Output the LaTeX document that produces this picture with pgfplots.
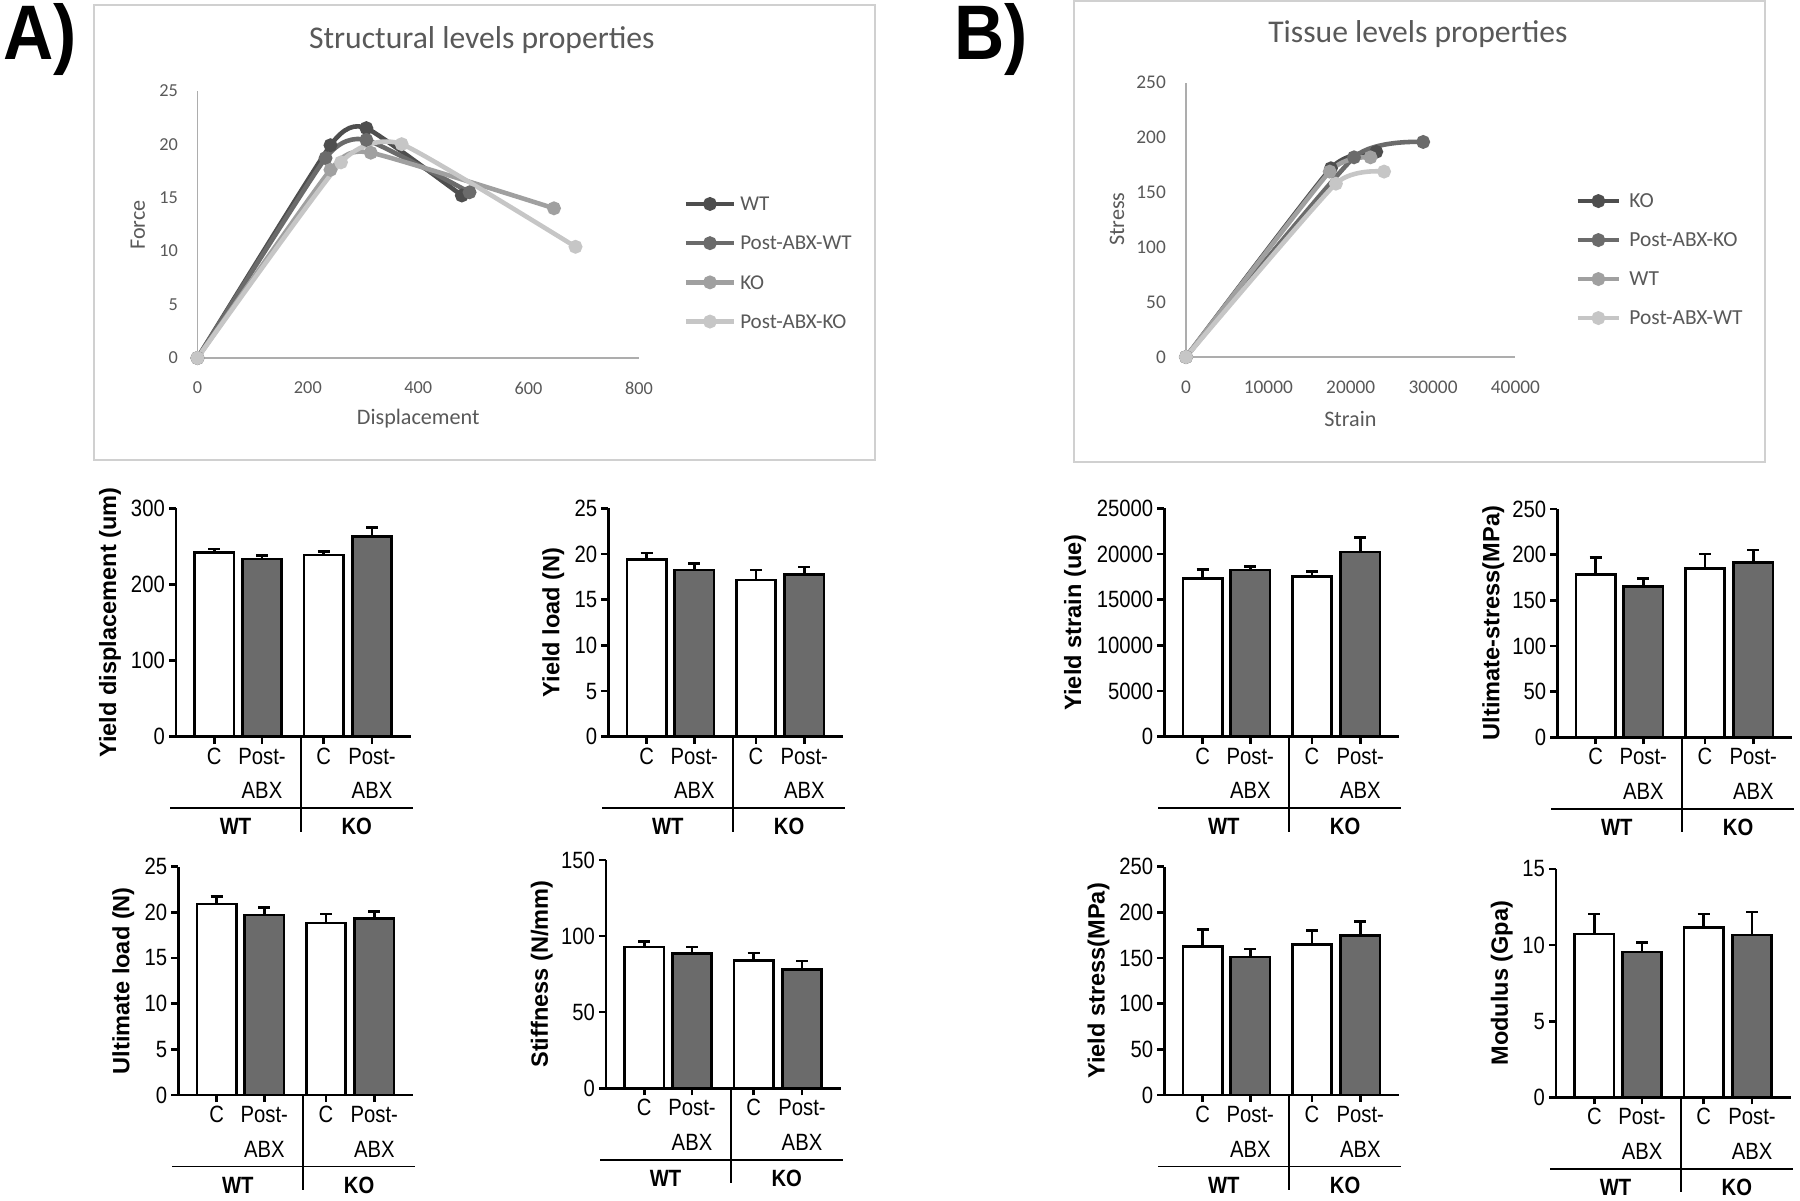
\documentclass[border=0pt]{standalone}
\usepackage{fontspec}
\usepackage{pgfplots}
\pgfplotsset{compat=1.18}
\setmainfont{Liberation Sans}
\newfontfamily\calf{Carlito}
\newfontfamily\barf[FakeStretch=0.86]{Liberation Sans}
\newfontfamily\barr{Liberation Sans}
\newfontfamily\bigf[FakeStretch=0.9]{Liberation Sans}
\definecolor{txt}{HTML}{595959}
\definecolor{c1}{HTML}{4E4E4E}
\definecolor{c2}{HTML}{6B6B6B}
\definecolor{c3}{HTML}{A0A0A0}
\definecolor{c4}{HTML}{C6C6C6}
\definecolor{barg}{HTML}{6B6B6B}
\definecolor{framec}{HTML}{D0D0D0}
\definecolor{axg}{HTML}{ADADAD}

\pgfplotsset{
  linechart/.style={
    scale only axis, clip=false,
    axis x line*=bottom, axis y line*=left,
    axis line style={-, draw=axg, line width=0.5pt},
    major tick length=0pt,
    /pgf/number format/assume math mode=true,
    /pgf/number format/1000 sep={},
    scaled x ticks=false, scaled y ticks=false,
    xticklabel style={inner sep=0pt, yshift=-2.3mm, text=txt},
    yticklabel style={inner sep=0pt, xshift=-1.9mm, text=txt},
    every axis title/.style={anchor=center, text=txt, font=\calf\fontsize{9}{10}\selectfont},
    xlabel style={anchor=center, text=txt, font=\calf\fontsize{6.3}{7}\selectfont},
    ylabel style={anchor=center, text=txt, font=\calf\fontsize{6.3}{7}\selectfont},
    legend cell align=left,
    every axis plot/.append style={line width=1.3pt, mark=*, mark size=1.3pt, smooth, tension=0.3, mark options={line width=0.4pt}},
  },
  barchart/.style={
    scale only axis, width=23.45mm, height=22.84mm, clip=false,
    xmin=0, xmax=234.5, ymin=0,
    axis x line*=bottom, axis y line*=left,
    axis line style={-, line width=0.75pt, black},
    tick align=outside, major tick length=0.7mm,
    every tick/.style={black, line width=0.75pt},
    xtick={38.3,86,147.7,196},
    xticklabels={C,Post-\\ABX,C,Post-\\ABX},
    xticklabel style={font=\barf\fontsize{6.7}{9.9}\selectfont, align=center, inner sep=1pt},
    yticklabel style={font=\barf\fontsize{6.7}{8}\selectfont, inner sep=1pt},
    /pgf/number format/assume math mode=true,
    /pgf/number format/1000 sep={},
    scaled y ticks=false,
    ylabel style={font=\barr\bfseries\fontsize{6.7}{8}\selectfont, anchor=center},
  },
  bbase/.style={ybar, bar shift=0pt, bar width=39.3, draw=black, line width=0.75pt,
    /pgfplots/error bars/y dir=plus, /pgfplots/error bars/y explicit,
    /pgfplots/error bars/error bar style={line width=0.75pt, black},
    /pgfplots/error bars/error mark options={rotate=90, mark size=0.6mm, line width=0.75pt, black}},
}

\newcommand{\groupdeco}{%
  \draw[line width=0.5pt] ([yshift=-7.16mm]axis cs:-6,0) -- ([yshift=-7.16mm]axis cs:236.5,0);
  \draw[line width=0.5pt] (axis cs:125,0) -- ([yshift=-9.5mm]axis cs:125,0);
  \node[font=\barf\bfseries\fontsize{6.7}{8}\selectfont] at ([yshift=-9.0mm]axis cs:59.5,0) {WT};
  \node[font=\barf\bfseries\fontsize{6.7}{8}\selectfont] at ([yshift=-9.0mm]axis cs:180.8,0) {KO};
}

\begin{document}
\begin{tikzpicture}
\begin{scope}[x=0.1mm,y=-0.1mm]
  \fill[white] (0,0) rectangle (1800,1201);
  \coordinate (cA) at (197.5,358);
  \coordinate (cB) at (1186,357);
  \coordinate (b1) at (176,736.7);
  \coordinate (b2) at (608.3,736.7);
  \coordinate (b3) at (178.3,1095);
  \coordinate (b4) at (606,1088.3);
  \coordinate (b5) at (1164.3,736.7);
  \coordinate (b6) at (1557.3,737.3);
  \coordinate (b7) at (1164.3,1095);
  \coordinate (b8) at (1556,1097.3);
  \draw[framec, line width=0.5pt] (94,5) rectangle (875,460);
  \draw[framec, line width=0.5pt] (1074,1) rectangle (1765,462);
  \node[font=\bigf\bfseries\fontsize{22}{24}\selectfont, inner sep=0pt] at (40,40) {A)};
  \node[font=\bigf\bfseries\fontsize{22}{24}\selectfont, inner sep=0pt] at (991,40) {B)};
\end{scope}

% ---------- A: structural levels ----------
\begin{axis}[linechart, at={(cA)}, anchor=south west, width=44.15mm, height=26.73mm,
  xmin=0, xmax=800, ymin=0, ymax=25, xtick={0,200,400,600,800}, ytick={0,5,10,15,20,25},
  tick label style={font=\calf\fontsize{5.2}{6}\selectfont},
  title={Structural levels properties},
  title style={at={(axis description cs:0.644,1.19)}},
  xlabel={Displacement}, xlabel style={at={(axis description cs:0.5,-0.228)}},
  ylabel={Force}, ylabel style={at={(axis description cs:-0.135,0.4976)}},
  legend style={at={(axis description cs:1.0997,0.6038)}, anchor=north west, draw=none, fill=none, inner sep=0pt, row sep=2.59mm, column sep=0.4mm, font=\calf\fontsize{6.0}{6.5}\selectfont, nodes={inner sep=0pt, text height=1.33mm, text depth=0pt, text=txt}},
  legend image code/.code={\draw[mark repeat=2,mark phase=2,#1] plot coordinates {(0mm,0mm) (2.4mm,0mm) (4.8mm,0mm)};},
]
\addplot[c1, mark options={fill=c1}] coordinates {(0,0) (241,19.9) (306,21.5) (479,15.2)};
\addlegendentry{WT}
\addplot[c2, mark options={fill=c2}] coordinates {(0,0) (232,18.7) (306,20.4) (493,15.5)};
\addlegendentry{Post-ABX-WT}
\addplot[c3, mark options={fill=c3}] coordinates {(0,0) (241,17.6) (314,19.2) (646,14.0)};
\addlegendentry{KO}
\addplot[c4, mark options={fill=c4}] coordinates {(0,0) (260,18.3) (370,20.0) (685,10.4)};
\addlegendentry{Post-ABX-KO}
\end{axis}

% ---------- B: tissue levels ----------
\begin{axis}[linechart, at={(cB)}, anchor=south west, width=32.94mm, height=27.43mm,
  xmin=0, xmax=40000, ymin=0, ymax=250, xtick={0,10000,20000,30000,40000}, ytick={0,50,100,150,200,250},
  tick label style={font=\calf\fontsize{5.5}{6}\selectfont},
  yticklabel style={xshift=-0.05mm},
  title={Tissue levels properties},
  title style={at={(axis description cs:0.704,1.176)}},
  xlabel={Strain}, xlabel style={at={(axis description cs:0.499,-0.227)}},
  ylabel={Stress}, ylabel style={at={(axis description cs:-0.2095,0.503)}},
  legend style={at={(axis description cs:1.18,0.5957)}, anchor=north west, draw=none, fill=none, inner sep=0pt, row sep=2.55mm, column sep=0.8mm, font=\calf\fontsize{6.1}{6.5}\selectfont, nodes={inner sep=0pt, text height=1.35mm, text depth=0pt, text=txt}},
  legend image code/.code={\draw[mark repeat=2,mark phase=2,#1] plot coordinates {(0mm,0mm) (2.07mm,0mm) (4.15mm,0mm)};},
]
\addplot[c1, mark options={fill=c1}] coordinates {(0,0) (17600,172) (23100,187)};
\addlegendentry{KO}
\addplot[c2, mark options={fill=c2}] coordinates {(0,0) (20400,182) (28800,196)};
\addlegendentry{Post-ABX-KO}
\addplot[c3, mark options={fill=c3}] coordinates {(0,0) (17450,169) (22400,182)};
\addlegendentry{WT}
\addplot[c4, mark options={fill=c4}] coordinates {(0,0) (18200,158) (24050,169)};
\addlegendentry{Post-ABX-WT}
\end{axis}

% ---------- bar charts ----------
\begin{axis}[barchart, at={(b1)}, anchor=south west, ymax=300, ytick={0,100,200,300},
  ylabel={Yield displacement (um)}, ylabel style={at={(axis description cs:-0.281,0.5)}}]
\addplot[bbase, fill=white] coordinates {(38.3,242) +- (0,4.5) (147.7,238.7) +- (0,4.8)};
\addplot[bbase, fill=barg] coordinates {(86,233.4) +- (0,4.8) (196,262.8) +- (0,11.8)};
\groupdeco
\end{axis}

\begin{axis}[barchart, at={(b2)}, anchor=south west, ymax=25, ytick={0,5,10,15,20,25},
  ylabel={Yield load (N)}, ylabel style={at={(axis description cs:-0.2345,0.5)}}]
\addplot[bbase, fill=white] coordinates {(38.3,19.43) +- (0,0.66) (147.7,17.16) +- (0,1.1)};
\addplot[bbase, fill=barg] coordinates {(86,18.26) +- (0,0.73) (196,17.78) +- (0,0.81)};
\groupdeco
\end{axis}

\begin{axis}[barchart, at={(b3)}, anchor=south west, ymax=25, ytick={0,5,10,15,20,25},
  ylabel={Ultimate load (N)}, ylabel style={at={(axis description cs:-0.2345,0.5)}}]
\addplot[bbase, fill=white] coordinates {(38.3,20.92) +- (0,0.84) (147.7,18.81) +- (0,1.02)};
\addplot[bbase, fill=barg] coordinates {(86,19.72) +- (0,0.77) (196,19.29) +- (0,0.83)};
\groupdeco
\end{axis}

\begin{axis}[barchart, at={(b4)}, anchor=south west, ymax=150, ytick={0,50,100,150},
  ylabel={Stiffness (N/mm)}, ylabel style={at={(axis description cs:-0.274,0.5)}}]
\addplot[bbase, fill=white] coordinates {(38.3,92.9) +- (0,3.7) (147.7,83.9) +- (0,5.05)};
\addplot[bbase, fill=barg] coordinates {(86,88.7) +- (0,4.2) (196,78.0) +- (0,5.5)};
\groupdeco
\end{axis}

\begin{axis}[barchart, at={(b5)}, anchor=south west, ymax=25000, ytick={0,5000,10000,15000,20000,25000},
  ylabel={Yield strain (ue)}, ylabel style={at={(axis description cs:-0.381,0.5)}}]
\addplot[bbase, fill=white] coordinates {(38.3,17299) +- (0,1022) (147.7,17518) +- (0,548)};
\addplot[bbase, fill=barg] coordinates {(86,18248) +- (0,402) (196,20219) +- (0,1569)};
\groupdeco
\end{axis}

\begin{axis}[barchart, at={(b6)}, anchor=south west, ymax=250, ytick={0,50,100,150,200,250},
  ylabel={Ultimate-stress(MPa)}, ylabel style={at={(axis description cs:-0.273,0.5)}}]
\addplot[bbase, fill=white] coordinates {(38.3,178.1) +- (0,19) (147.7,184.7) +- (0,16)};
\addplot[bbase, fill=barg] coordinates {(86,165.3) +- (0,8.8) (196,191.2) +- (0,13.9)};
\groupdeco
\end{axis}

\begin{axis}[barchart, at={(b7)}, anchor=south west, ymax=250, ytick={0,50,100,150,200,250},
  ylabel={Yield stress(MPa)}, ylabel style={at={(axis description cs:-0.281,0.5)}}]
\addplot[bbase, fill=white] coordinates {(38.3,162.7) +- (0,18.2) (147.7,164.8) +- (0,15)};
\addplot[bbase, fill=barg] coordinates {(86,151.0) +- (0,8.8) (196,174.7) +- (0,14.9)};
\groupdeco
\end{axis}

\begin{axis}[barchart, at={(b8)}, anchor=south west, ymax=15, ytick={0,5,10,15},
  ylabel={Modulus (Gpa)}, ylabel style={at={(axis description cs:-0.2316,0.5)}}]
\addplot[bbase, fill=white] coordinates {(38.3,10.73) +- (0,1.32) (147.7,11.15) +- (0,0.9)};
\addplot[bbase, fill=barg] coordinates {(86,9.55) +- (0,0.61) (196,10.67) +- (0,1.51)};
\groupdeco
\end{axis}

\pgfresetboundingbox
\path[use as bounding box] (0,0) rectangle (180mm,-120.1mm);
\end{tikzpicture}
\end{document}
